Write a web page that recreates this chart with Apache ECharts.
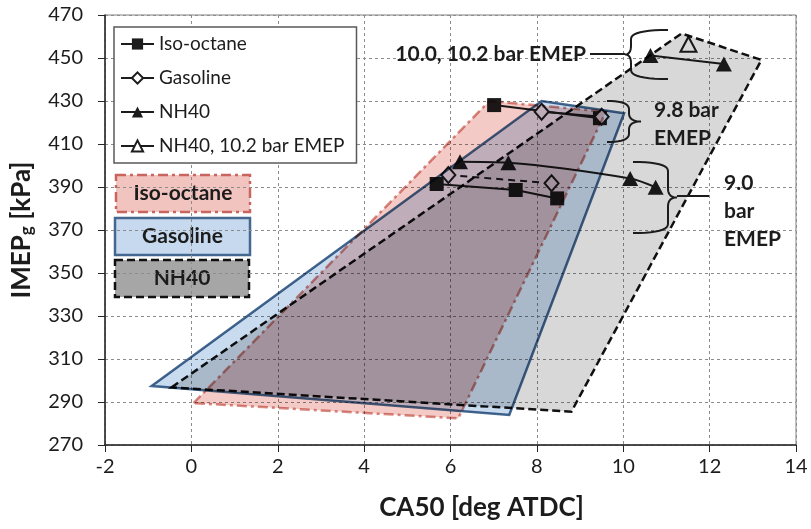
<!DOCTYPE html>
<html>
<head>
<meta charset="utf-8">
<script src="https://cdn.jsdelivr.net/npm/echarts@6/dist/echarts.min.js"></script>
<style>
  html, body { margin: 0; padding: 0; background: #fff; }
  #chart { width: 811px; height: 529px; }
</style>
</head>
<body>
<div id="chart"></div>
<script>
// Axis ranges and ticks
const xTickStep = 2, xMin = -2, xMax = 14;
const yTickStep = 20, yMin = 270, yMax = 470;

// Measured operating points: [CA50, IMEPg]
const isoUpper  = [[7.01, 428.1], [9.46, 422.0]];
const isoLower  = [[5.68, 391.4], [7.51, 388.6], [8.47, 384.7]];
const gasUpper  = [[8.11, 425.0], [9.50, 422.7]];
const gasLower  = [[5.95, 395.6], [8.34, 391.7]];
const nh40Upper = [[10.63, 451.2], [12.33, 447.2]];
const nh40Lower = [[6.22, 401.8], [7.34, 401.3], [10.16, 394.0], [10.75, 389.9]];
const nh40High  = [[11.51, 456.4]];

// Operating envelopes (polygon corners)
const isoRegion  = [[0.05, 289.5], [6.90, 430.0], [9.60, 425.0], [6.18, 282.4]];
const gasRegion  = [[-0.92, 297.4], [8.11, 430.0], [10.02, 424.3], [7.36, 284.0]];
const nh40Region = [[-0.46, 296.8], [11.35, 461.4], [13.20, 449.1], [8.80, 285.5]];

const FONT = 'Lato';
const INK = '#1c1c1c';

function lineSeries(name, data, symbol, size, extra) {
  return Object.assign({
    name: name,
    type: 'line',
    data: data,
    symbol: symbol,
    symbolSize: size,
    showSymbol: true,
    z: 2,
    lineStyle: { color: INK, width: 2 },
    itemStyle: { color: INK, borderColor: INK, borderWidth: 0 },
    emphasis: { disabled: true },
    animation: false
  }, extra || {});
}

// Envelopes are multiplied over the points so overlaps darken like tinted film
function regionSeries(name, pts, style) {
  return {
    name: name,
    type: 'custom',
    z: 3,
    silent: true,
    animation: false,
    blendMode: 'multiply',
    data: [pts[0]],
    renderItem: function (params, api) {
      return {
        type: 'polygon',
        shape: { points: pts.map(p => api.coord(p)) },
        style: style
      };
    }
  };
}

// Curly brace drawn as a sampled polyline
function brace(stemX, tipX, endX, yTop, yBot) {
  const yMid = (yTop + yBot) / 2;
  const r = Math.min(9, (yBot - yTop) / 5);
  const pts = [];
  function quad(p0, c, p1) {
    for (let i = 0; i <= 10; i++) {
      const t = i / 10, u = 1 - t;
      pts.push([u * u * p0[0] + 2 * u * t * c[0] + t * t * p1[0],
                u * u * p0[1] + 2 * u * t * c[1] + t * t * p1[1]]);
    }
  }
  quad([endX, yTop], [stemX, yTop], [stemX, yTop + r]);
  quad([stemX, yMid - r], [stemX, yMid], [tipX, yMid]);
  quad([tipX, yMid], [stemX, yMid], [stemX, yMid + r]);
  quad([stemX, yBot - r], [stemX, yBot], [endX, yBot]);
  return { type: 'polyline', shape: { points: pts }, style: { stroke: INK, lineWidth: 2, fill: null }, z: 10 };
}

function swatch(x, y, w, h, label, fill, stroke, dash) {
  return {
    type: 'group', x: x, y: y, z: 10,
    children: [
      { type: 'rect', shape: { x: 0, y: 0, width: w, height: h },
        style: { fill: fill, stroke: stroke, lineWidth: 2.5, lineDash: dash } },
      { type: 'text', x: w / 2, y: h / 2,
        style: { text: label, fill: INK, font: 'bold 21px ' + FONT, align: 'center', verticalAlign: 'middle' } }
    ]
  };
}

function note(x, y, text, align) {
  return { type: 'text', x: x, y: y, z: 10,
    style: { text: text, fill: INK, font: 'bold 21px ' + FONT, align: align || 'left', verticalAlign: 'middle', lineHeight: 28 } };
}

const solidLegendLine = { color: INK, width: 2, type: 'solid' };
const chart = echarts.init(document.getElementById('chart'), null, { renderer: 'canvas' });

chart.setOption({
  backgroundColor: '#fff',
  animation: false,
  textStyle: { fontFamily: FONT, color: INK },
  grid: { left: 105, right: 15, top: 15, bottom: 84, show: true, borderColor: '#808080', borderWidth: 1, backgroundColor: 'transparent' },
  legend: {
    data: [
      { name: 'Iso-octane', itemStyle: { color: INK, borderWidth: 0 }, lineStyle: solidLegendLine },
      { name: 'Gasoline', itemStyle: { color: '#fff', borderColor: INK, borderWidth: 2 }, lineStyle: solidLegendLine },
      { name: 'NH40', itemStyle: { color: INK, borderWidth: 0 }, lineStyle: solidLegendLine },
      { name: 'NH40, 10.2 bar EMEP', itemStyle: { color: '#fff', borderColor: INK, borderWidth: 2 }, lineStyle: solidLegendLine }
    ],
    orient: 'vertical',
    left: 114, top: 27,
    padding: [6, 12, 6, 6],
    itemGap: 12,
    itemWidth: 33, itemHeight: 14,
    backgroundColor: '#fff',
    borderColor: '#595959', borderWidth: 1.5,
    textStyle: { fontFamily: FONT, fontSize: 19, color: INK, lineHeight: 22 },
    selectedMode: false
  },
  xAxis: {
    type: 'value', min: xMin, max: xMax, interval: xTickStep,
    name: 'CA50 [deg ATDC]', nameLocation: 'middle', nameGap: 50,
    nameTextStyle: { fontFamily: FONT, fontSize: 26, fontWeight: 'bold', color: INK, padding: [0, 0, 0, 62] },
    axisLine: { show: true, onZero: false, lineStyle: { color: '#262626', width: 1.5 } },
    axisTick: { show: true, inside: false, length: 7, lineStyle: { color: '#262626' } },
    axisLabel: { fontFamily: FONT, fontSize: 20, color: INK, margin: 12 },
    splitLine: { show: true, lineStyle: { color: '#8c8c8c', width: 1, type: [3, 3] } }
  },
  yAxis: {
    type: 'value', min: yMin, max: yMax, interval: yTickStep,
    name: '{a|IMEP}{s|g}{a| [kPa]}', nameLocation: 'middle', nameGap: 70, nameRotate: 90,
    nameTextStyle: {
      rich: {
        a: { fontFamily: FONT, fontSize: 26, fontWeight: 'bold', color: INK },
        s: { fontFamily: FONT, fontSize: 17, fontWeight: 'bold', color: INK, verticalAlign: 'bottom', padding: [10, 0, 0, 0] }
      }
    },
    axisLine: { show: true, onZero: false, lineStyle: { color: '#262626', width: 1.5 } },
    axisTick: { show: true, inside: false, length: 7, lineStyle: { color: '#262626' } },
    axisLabel: { fontFamily: FONT, fontSize: 20, color: INK, margin: 22 },
    splitLine: { show: true, lineStyle: { color: '#8c8c8c', width: 1, type: [3, 3] } }
  },
  series: [
    lineSeries('Iso-octane', isoUpper, 'rect', 14),
    lineSeries('Iso-octane', isoLower, 'rect', 14),
    lineSeries('Gasoline', gasUpper, 'diamond', [14, 16], { itemStyle: { color: '#fff', borderColor: INK, borderWidth: 2 } }),
    lineSeries('Gasoline', gasLower, 'diamond', [14, 16], {
      itemStyle: { color: '#fff', borderColor: INK, borderWidth: 2 },
      lineStyle: { color: INK, width: 2, type: [7, 5] }
    }),
    lineSeries('NH40', nh40Lower, 'triangle', [16, 15], { smooth: 0.3 }),
    lineSeries('NH40', nh40Upper, 'triangle', [16, 15]),
    lineSeries('NH40, 10.2 bar EMEP', nh40High, 'triangle', [16, 15], { itemStyle: { color: '#fff', borderColor: INK, borderWidth: 2 } }),
    regionSeries('Iso-octane region', isoRegion, { fill: '#f4cac6', stroke: '#d98a82', lineWidth: 2.5, lineDash: [10, 4, 3, 4] }),
    regionSeries('Gasoline region', gasRegion, { fill: '#c8dbef', stroke: '#44688f', lineWidth: 2.5 }),
    regionSeries('NH40 region', nh40Region, { fill: '#d8d8d8', stroke: '#111', lineWidth: 2.5, lineDash: [8, 4] })
  ],
  graphic: [
    swatch(116, 175, 134, 37, 'Iso-octane', '#f2c4c0', '#c9655e', [10, 4, 3, 4]),
    swatch(115, 218, 135, 37, 'Gasoline', '#c6d9ee', '#44688f', null),
    swatch(115, 260, 134, 37, 'NH40', '#a6a6a6', '#111', [8, 4]),
    note(586, 54, '10.0, 10.2 bar EMEP', 'right'),
    { type: 'line', shape: { x1: 590, y1: 54, x2: 625, y2: 54 }, style: { stroke: INK, lineWidth: 2 }, z: 10 },
    brace(631, 625, 668, 30, 79),
    brace(629, 641, 607, 101, 142),
    note(654, 124, '9.8 bar\nEMEP'),
    brace(668, 677, 633, 162, 233),
    { type: 'line', shape: { x1: 677, y1: 196, x2: 709, y2: 196 }, style: { stroke: INK, lineWidth: 2 }, z: 10 },
    note(724, 211, '9.0\nbar\nEMEP')
  ]
});
</script>
</body>
</html>
